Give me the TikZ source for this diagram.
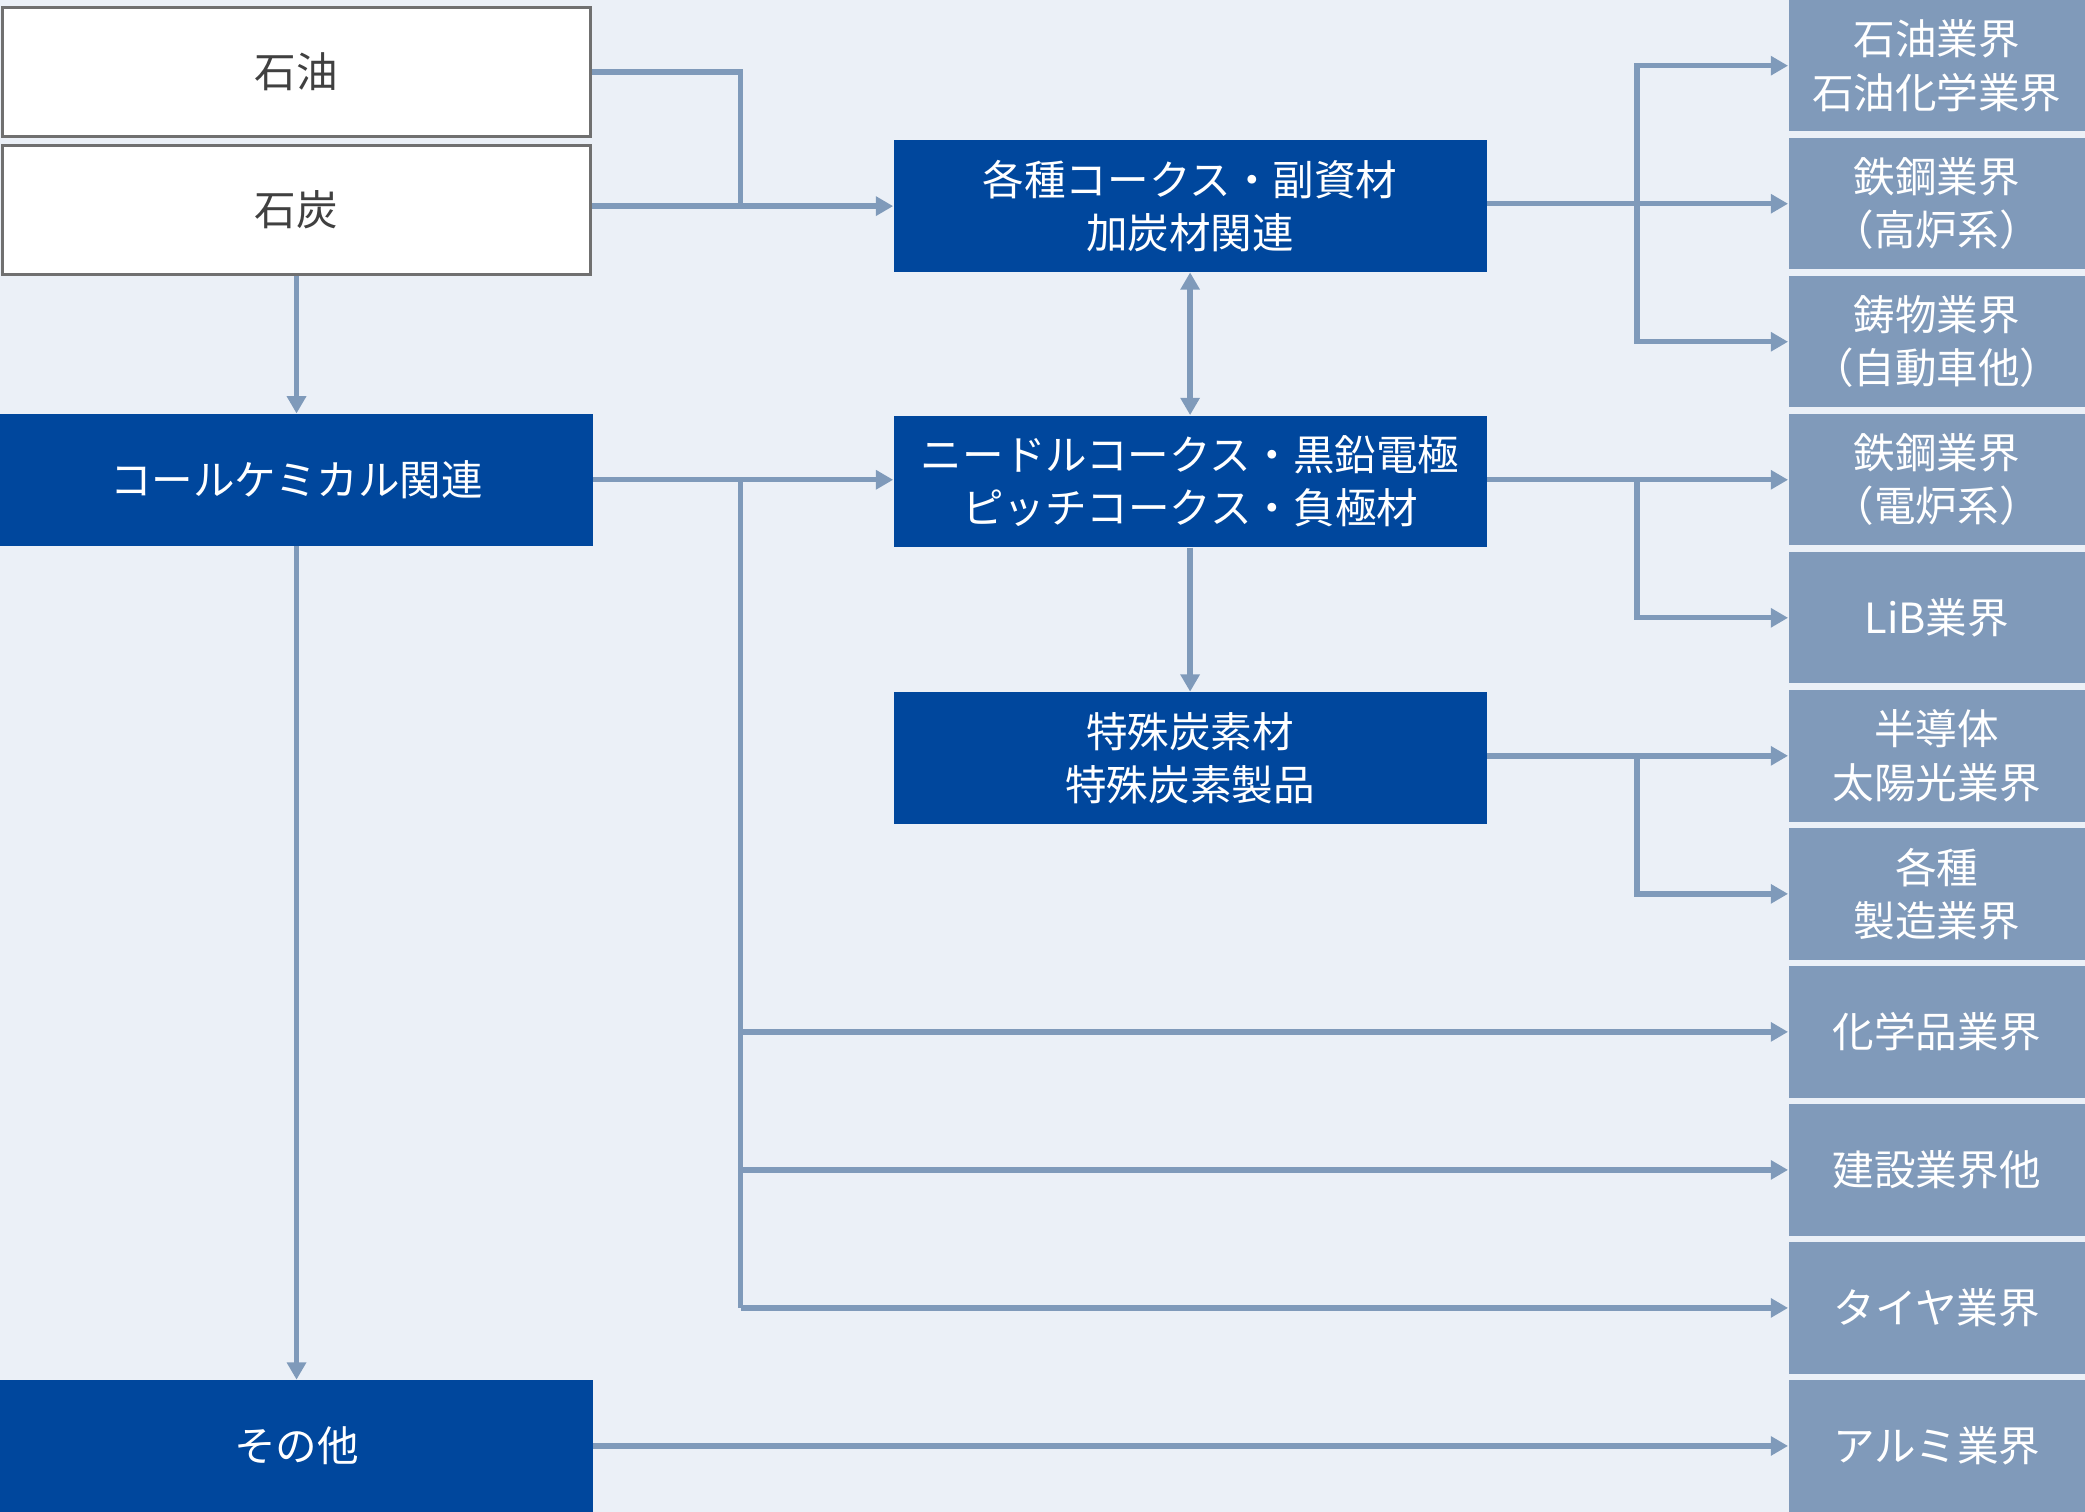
\documentclass[tikz,border=0pt]{standalone}
\usepackage{fontspec}
\setmainfont{Noto Sans CJK JP}
\usepackage{tikz}
\usetikzlibrary{arrows.meta}
\usetikzlibrary{backgrounds}
\definecolor{bgblue}{HTML}{EBF0F7}
\definecolor{linkblue}{HTML}{7F9ABA}
\definecolor{darkblue}{HTML}{00479D}
\definecolor{grayblue}{HTML}{809ABA}
\definecolor{boxgray}{HTML}{707070}
\definecolor{textgray}{HTML}{404040}
\tikzstyle{link}=[draw=linkblue,line width=2.3pt]
\tikzstyle{arrow}=[link,-{Triangle[length=0.26cm,width=0.28cm]}]
\tikzstyle{both}=[link,{Triangle[length=0.26cm,width=0.28cm]}-{Triangle[length=0.26cm,width=0.28cm]}]
\tikzstyle{whitebox}=[draw=boxgray,line width=1.3pt,fill=white,text=textgray,minimum width=8.84cm,minimum height=1.94cm,inner sep=0pt]
\tikzstyle{bluebox}=[fill=darkblue,text=white,minimum width=8.92cm,minimum height=1.98cm,inner sep=0pt]
\tikzstyle{sidebox}=[fill=grayblue,text=white,minimum width=4.46cm,minimum height=1.976cm,inner sep=0pt]
\tikzset{every picture/.style={
    font=\fontsize{17.8pt}{22.8pt}\selectfont
  },
  every node/.style={align=center}
}

\begin{document}
\begin{tikzpicture}[x=0.02cm,y=-0.02cm]
            \fill[bgblue] (0,0) rectangle (1568,1137);
            \useasboundingbox (0,0) rectangle (1568,1137);
            % sources
            \node[whitebox] (sekiyu) at (223,54) {石油};
            \node[whitebox] (sekitan) at (223,158) {石炭};
            \node[bluebox] (coal) at (223,360.8) {コールケミカル関連};
            \node[bluebox] (sonota) at (223,1087.4) {その他};
            % products
            \node[bluebox] (coke) at (895,155) {各種コークス・副資材\\加炭材関連};
            \node[bluebox] (needle) at (895,362) {ニードルコークス・黒鉛電極\\ピッチコークス・負極材};
            \node[bluebox] (special) at (895,570) {特殊炭素材\\特殊炭素製品};
            % industries
            \node[sidebox] (ind1) at (1456.5,49.4) {石油業界\\石油化学業界};
            \node[sidebox] (ind2) at (1456.5,153.2) {鉄鋼業界\\（高炉系）};
            \node[sidebox] (ind3) at (1456.5,257) {鋳物業界\\（自動車他）};
            \node[sidebox] (ind4) at (1456.5,360.8) {鉄鋼業界\\（電炉系）};
            \node[sidebox] (ind5) at (1456.5,464.6) {LiB業界};
            \node[sidebox] (ind6) at (1456.5,568.4) {半導体\\太陽光業界};
            \node[sidebox] (ind7) at (1456.5,672.2) {各種\\製造業界};
            \node[sidebox] (ind8) at (1456.5,776) {化学品業界};
            \node[sidebox] (ind9) at (1456.5,879.8) {建設業界他};
            \node[sidebox] (ind10) at (1456.5,983.6) {タイヤ業界};
            \node[sidebox] (ind11) at (1456.5,1087.4) {アルミ業界};
            % junctions
            \coordinate (jleft) at (557,155);
            \coordinate (jcoal) at (557,360.8);
            \coordinate (jcoke) at (1231,153.2);
            \coordinate (jneedle) at (1231,360.8);
            \coordinate (jspecial) at (1231,568.4);
            % links
            \draw[link] (sekiyu.east) -| (jleft);
            \draw[arrow] (sekitan.east |- coke.west) -- (coke.west);
            \draw[arrow] (sekitan.south) -- (coal.north);
            \draw[arrow] (coal.south) -- (sonota.north);
            \draw[arrow] (coal.east) -- (needle.west |- coal.east);
            \draw[link] (jcoal) -- (jcoal |- ind10.west);
            \draw[arrow] (jcoal |- ind8.west) -- (ind8.west);
            \draw[arrow] (jcoal |- ind9.west) -- (ind9.west);
            \draw[arrow] (jcoal |- ind10.west) -- (ind10.west);
            \draw[arrow] (sonota.east) -- (ind11.west);
            \draw[both] (coke.south) -- (needle.north);
            \draw[arrow] (needle.south) -- (special.north);
            \draw[arrow] (coke.east |- ind2.west) -- (ind2.west);
            \draw[arrow] (jcoke) |- (ind1.west);
            \draw[arrow] (jcoke) |- (ind3.west);
            \draw[arrow] (needle.east |- ind4.west) -- (ind4.west);
            \draw[arrow] (jneedle) |- (ind5.west);
            \draw[arrow] (special.east |- ind6.west) -- (ind6.west);
            \draw[arrow] (jspecial) |- (ind7.west);
          \end{tikzpicture}
\end{document}
